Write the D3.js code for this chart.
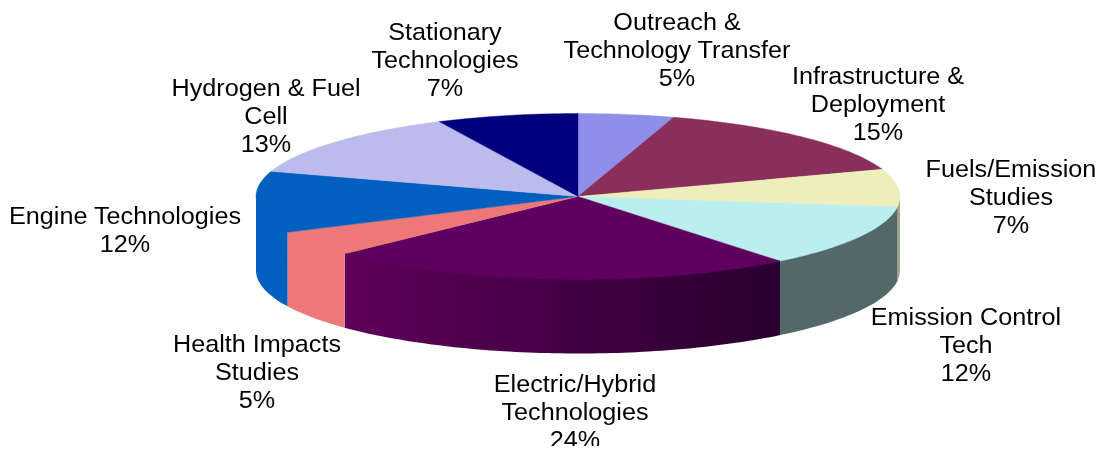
<!DOCTYPE html>
<html>
<head>
<meta charset="utf-8">
<script src="https://cdn.jsdelivr.net/npm/d3@7/dist/d3.min.js"></script>
<style>
html, body { margin: 0; padding: 0; background: #fff; }
svg { display: block; }
text { font-family: "Liberation Sans", Arial, sans-serif; font-size: 24px; fill: #000; text-anchor: middle; }
</style>
</head>
<body>
<svg id="chart" width="1100" height="452"></svg>
<script>
// chart data, clockwise from 12 o'clock
var categories = [
	["Outreach &", "Technology Transfer"],
	["Infrastructure &", "Deployment"],
	["Fuels/Emission", "Studies"],
	["Emission Control", "Tech"],
	["Electric/Hybrid", "Technologies"],
	["Health Impacts", "Studies"],
	["Engine Technologies"],
	["Hydrogen & Fuel", "Cell"],
	["Stationary", "Technologies"]
];
// shares, labels show them rounded
var shares = [4.8, 14.9, 7.3, 12.2, 23.7, 5, 12, 13, 7.1];
var top_colors = ["#8f8fe9", "#8a2f5b", "#eeeebb", "#bbeeee", "#5f005f", "#ee7777", "#005fbf", "#bbbbee", "#00007f"];
var side_left = ["#70707f", "#6b2547", "#a5a582", "#536868", "#5f005a", "#ee7777", "#005fbf", "#8f8fb8", "#000060"];
var side_right = ["#70707f", "#6b2547", "#a5a582", "#536868", "#29002f", "#ee7777", "#005fbf", "#8f8fb8", "#000060"];

// label placement: centre x and first baseline
var label_x = [677, 878, 1011, 966, 575, 257, 125, 266, 445];
var label_y = [30, 84, 177, 325, 392, 352, 224, 96, 40];
var line_gap = 28;
var text_stretch = 1.05; // the original is a bit wider than the font

var svg = d3.select("#chart");
var cx = 578, cy = 196.5, rx = 322, ry = 83, depth = 74;

var x = d3.scaleLinear().domain([-1, 1]).range([cx - rx, cx + rx]);
var y = d3.scaleLinear().domain([-1, 1]).range([cy - ry, cy + ry]);

var arcs = d3.pie().sort(null)(shares);

function rim(a0, a1){
	var n = Math.max(2, Math.ceil((a1 - a0) / 0.02));
	return d3.range(n + 1).map(function(i){
		var a = a0 + (a1 - a0) * i / n;
		return [x(Math.sin(a)), y(-Math.cos(a))];
	});
}

var line = d3.line();
var defs = svg.append("defs");

// clip the picture where the original was cropped
defs.append("clipPath").attr("id", "crop").append("rect")
	.attr("width", 1100).attr("height", 446);

// original is a soft, resampled image
defs.append("filter").attr("id", "soft").append("feGaussianBlur").attr("stdDeviation", 0.4);

var root = svg.append("g").attr("clip-path", "url(#crop)").append("g").attr("filter", "url(#soft)");

// walls, only the front half of the rim shows
arcs.forEach(function(d, i){
	var a0 = Math.max(d.startAngle, Math.PI / 2);
	var a1 = Math.min(d.endAngle, Math.PI * 3 / 2);
	if (a1 <= a0) return;
	var upper = rim(a0, a1);
	var lower = upper.slice().reverse().map(function(p){ return [p[0], p[1] + depth]; });
	// start a little under the top face so no seam shows along the rim
	var tucked = upper.map(function(p){ return [p[0], p[1] - 2]; });
	var xs = d3.extent(upper, function(p){ return p[0]; });
	var grad = defs.append("linearGradient")
		.attr("id", "side" + i)
		.attr("gradientUnits", "userSpaceOnUse")
		.attr("x1", xs[0]).attr("x2", xs[1]).attr("y1", 0).attr("y2", 0);
	grad.append("stop").attr("offset", 0).attr("stop-color", side_left[i]);
	grad.append("stop").attr("offset", 1).attr("stop-color", side_right[i]);
	root.append("path")
		.attr("d", line(tucked.concat(lower)) + "Z")
		.attr("fill", "url(#side" + i + ")");
});

// top face
root.selectAll("path.slice")
	.data(arcs)
	.enter().append("path")
	.attr("class", "slice")
	.attr("d", function(d){
		return line([[x(0), y(0)]].concat(rim(d.startAngle, d.endAngle))) + "Z";
	})
	.attr("fill", function(d, i){ return top_colors[i]; })
	.attr("stroke", function(d, i){ return top_colors[i]; })
	.attr("stroke-width", 0.4);

// labels
categories.forEach(function(names, i){
	var t = root.append("text")
		.attr("transform", "translate(" + label_x[i] + ",0) scale(" + text_stretch + ",1)");
	names.concat([Math.round(shares[i]) + "%"]).forEach(function(s, k){
		t.append("tspan")
			.attr("x", 0)
			.attr("y", label_y[i] + k * line_gap)
			.text(s);
	});
});
</script>
</body>
</html>
